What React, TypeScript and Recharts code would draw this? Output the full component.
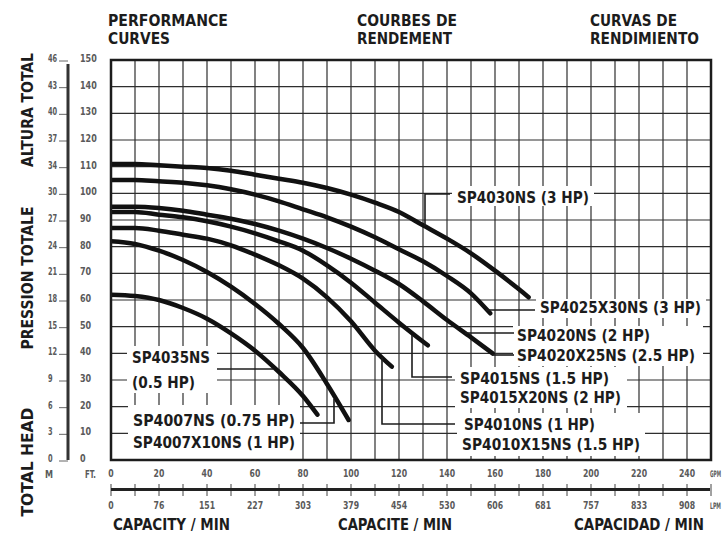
import React from "react";
import { LineChart, Line, XAxis, YAxis, CartesianGrid } from "recharts";

// capacity (GPM) and head (ft)
const gpmTicks = [0, 10, 20, 30, 40, 50, 60, 70, 80, 90, 100, 110, 120, 130, 140, 150, 160, 170, 180, 190, 200, 210, 220, 230, 240, 250];
const ftTicks = [0, 10, 20, 30, 40, 50, 60, 70, 80, 90, 100, 110, 120, 130, 140, 150];
const meterLabels = ["0", "3", "6", "9", "12", "15", "18", "21", "24", "27", "30", "34", "37", "40", "43", "46"];
const gpmLabels = [0, 20, 40, 60, 80, 100, 120, 140, 160, 180, 200, 220, 240];
const lpmLabels = ["0", "76", "151", "227", "303", "379", "454", "530", "606", "681", "757", "833", "908"];

const sp4030 = [[0, 111], [10, 111], [20, 110.5], [30, 110], [40, 109.5], [50, 108.5], [60, 107], [70, 105.5], [80, 104], [90, 102], [100, 99.5], [110, 96.5], [120, 93], [130, 88], [140, 83], [150, 77.5], [160, 71], [170, 64], [174, 61]];
const sp4025x30 = [[0, 105], [10, 105], [20, 104.5], [30, 104], [40, 103], [50, 101.5], [60, 99.5], [70, 97], [80, 94], [90, 91], [100, 87.5], [110, 83.5], [120, 79], [130, 74.5], [140, 69], [150, 62.5], [158, 55]];
const sp4020 = [[0, 95], [10, 95], [20, 94.5], [30, 93.5], [40, 92], [50, 90.5], [60, 88.5], [70, 86], [80, 83], [90, 79.5], [100, 75.5], [110, 71], [120, 66], [130, 59.5], [140, 52.5], [150, 46], [159, 40]];
const sp4015 = [[0, 93], [10, 93], [20, 92], [30, 91], [40, 89.5], [50, 87.5], [60, 85], [70, 82], [80, 78.5], [90, 73], [100, 66.5], [110, 59], [120, 51.5], [132, 43]];
const sp4010 = [[0, 87], [10, 87], [20, 86], [30, 84.5], [40, 83], [50, 80.5], [60, 77], [70, 73], [80, 68], [90, 61], [100, 52], [110, 41], [117, 35]];
const sp4007 = [[0, 82], [10, 81], [20, 78.5], [30, 75], [40, 70.5], [50, 65], [60, 58.5], [70, 51], [80, 42], [90, 28.5], [99, 15]];
const sp4035 = [[0, 62], [10, 61.5], [20, 60], [30, 57], [40, 53], [50, 47.5], [60, 41], [70, 33], [80, 24], [86, 17]];

const curves = [sp4030, sp4025x30, sp4020, sp4015, sp4010, sp4007, sp4035];
const toRows = (pts: number[][]) => pts.map(([gpm, head]) => ({ gpm, head }));

const font = "'DejaVu Sans', 'Liberation Sans', sans-serif";
const ink = "#1c1c1c";

function FtTick(props: any) {
  const { y, payload } = props;
  const ft = payload.value;
  const m = meterLabels[ftTicks.indexOf(ft)];
  const s = String(ft);
  return (
    <g fontFamily={font} fontWeight={700} fontSize={11} fill="#5a5a5a">
      <text x={48} y={y + 2} textLength={m.length * 4.6} lengthAdjust="spacingAndGlyphs">{m}</text>
      <line x1={59} x2={68} y1={y + 1} y2={y + 1} stroke="#666" strokeWidth={1} />
      <text x={80} y={y + 2} textLength={s.length * 5.6} lengthAdjust="spacingAndGlyphs">{s}</text>
    </g>
  );
}

function GpmTick(props: any) {
  const { x, payload } = props;
  const v = payload.value;
  const i = gpmLabels.indexOf(v);
  return (
    <g fontFamily={font} fontWeight={700} fontSize={11} fill="#5a5a5a">
      <line x1={x} x2={x} y1={484} y2={496} stroke="#444" strokeWidth={1} />
      {i >= 0 && (
        <text x={x} y={477} textAnchor="middle" textLength={String(v).length * 5.4} lengthAdjust="spacingAndGlyphs">{v}</text>
      )}
      {i >= 0 && (
        <text x={x} y={509} textAnchor="middle" textLength={lpmLabels[i].length * 5.4} lengthAdjust="spacingAndGlyphs">{lpmLabels[i]}</text>
      )}
    </g>
  );
}

function T({ x, y, w, size = 15, children }: any) {
  return (
    <text x={x} y={y} fontSize={size} fontFamily={font} fontWeight={700} fill={ink} textLength={w} lengthAdjust="spacingAndGlyphs">
      {children}
    </text>
  );
}

// horizontally squeezed text, for the words that sit on the page edge
function S({ x, y, w, sx, size, fill = ink, children }: any) {
  return (
    <text
      transform={`translate(${x},${y}) scale(${sx},1)`}
      fontSize={size}
      fontFamily={font}
      fontWeight={700}
      fill={fill}
      textLength={w / sx}
      lengthAdjust="spacingAndGlyphs"
    >
      {children}
    </text>
  );
}

function Annotations() {
  const lead = { fill: "none", stroke: ink, strokeWidth: 1.6 };
  return (
    <svg width={724} height={535} style={{ position: "absolute", left: 0, top: 0, pointerEvents: "none" }}>
      {/* label backgrounds */}
      <g fill="#fff">
        <rect x={452} y={186} width={142} height={20} />
        <rect x={536} y={299} width={170} height={19} />
        <rect x={513} y={326} width={190} height={40} />
        <rect x={455} y={367} width={172} height={41} />
        <rect x={457} y={413} width={188} height={43} />
        <rect x={127} y={346} width={90} height={47} />
        <rect x={128} y={405} width={172} height={54} />
      </g>
      <rect x={111} y={60} width={600} height={400} fill="none" stroke={ink} strokeWidth={2.5} />
      <line x1={68} x2={68} y1={64} y2={460} stroke="#333" strokeWidth={3} />
      <line x1={111} x2={710} y1={489.5} y2={489.5} stroke="#222" strokeWidth={3} />

      <T x={108} y={26} w={120} size={15}>PERFORMANCE</T>
      <T x={108} y={44} w={62} size={15}>CURVES</T>
      <T x={357} y={26} w={100} size={15}>COURBES DE</T>
      <T x={357} y={44} w={95} size={15}>RENDEMENT</T>
      <T x={590} y={26} w={87} size={15}>CURVAS DE</T>
      <T x={590} y={44} w={109} size={15}>RENDIMIENTO</T>

      <g fontFamily={font} fontWeight={700} fontSize={15} fill={ink} textAnchor="middle">
        <text transform="translate(33,110) rotate(-90)" textLength={114} lengthAdjust="spacingAndGlyphs">ALTURA TOTAL</text>
        <text transform="translate(33,278) rotate(-90)" textLength={143} lengthAdjust="spacingAndGlyphs">PRESSION TOTALE</text>
        <text transform="translate(33,462) rotate(-90)" textLength={109} lengthAdjust="spacingAndGlyphs">TOTAL HEAD</text>
      </g>

      <g fontFamily={font} fontWeight={700} fontSize={11} fill="#5a5a5a">
        <text x={45} y={478} textLength={8} lengthAdjust="spacingAndGlyphs">M</text>
        <text x={85} y={478} textLength={11} lengthAdjust="spacingAndGlyphs">FT.</text>
      </g>
      <S x={710} y={477} w={11} sx={0.5} size={9} fill="#5a5a5a">GPM</S>
      <S x={710} y={509} w={11} sx={0.5} size={9} fill="#5a5a5a">LPM</S>

      <S x={113} y={530} w={117} sx={0.75} size={16}>CAPACITY / MIN</S>
      <S x={338} y={530} w={114} sx={0.75} size={16}>CAPACITE / MIN</S>
      <S x={574} y={530} w={130} sx={0.75} size={16}>CAPACIDAD / MIN</S>

      {/* leaders */}
      <polyline points="425,226 425,194 450,194" {...lead} />
      <polyline points="486,310 535,310" {...lead} />
      <polyline points="465,333 514,333" {...lead} />
      <polyline points="492,355 514,355" {...lead} />
      <polyline points="412,335 412,377 452,377" {...lead} />
      <polyline points="382,357 382,424 455,424" {...lead} />
      <polyline points="217,369 273,369" {...lead} />
      <polyline points="300,423 334,423 334,399" {...lead} />

      <T x={457} y={203} w={132}>SP4030NS (3 HP)</T>
      <T x={540} y={313} w={161}>SP4025X30NS (3 HP)</T>
      <T x={517} y={341} w={133}>SP4020NS (2 HP)</T>
      <T x={517} y={361} w={178}>SP4020X25NS (2.5 HP)</T>
      <T x={460} y={384} w={149}>SP4015NS (1.5 HP)</T>
      <T x={460} y={403} w={161}>SP4015X20NS (2 HP)</T>
      <T x={464} y={430} w={131}>SP4010NS (1 HP)</T>
      <T x={462} y={450} w={178}>SP4010X15NS (1.5 HP)</T>
      <T x={132} y={363} w={78}>SP4035NS</T>
      <T x={132} y={388} w={63}>(0.5 HP)</T>
      <T x={133} y={426} w={162}>SP4007NS (0.75 HP)</T>
      <T x={133} y={448} w={162}>SP4007X10NS (1 HP)</T>
    </svg>
  );
}

export default function App() {
  return (
    <div style={{ position: "absolute", left: 0, top: 0, width: 724, height: 535, background: "#fff" }}>
      <LineChart width={724} height={535} margin={{ top: 60, right: 13, bottom: 0, left: 0 }}>
        <CartesianGrid stroke="#2e2e2e" strokeWidth={1.2} />
        <XAxis
          type="number"
          dataKey="gpm"
          domain={[0, 250]}
          ticks={gpmTicks}
          interval={0}
          height={75}
          axisLine={false}
          tickLine={false}
          tick={<GpmTick />}
          allowDataOverflow
        />
        <YAxis
          type="number"
          domain={[0, 150]}
          ticks={ftTicks}
          interval={0}
          width={111}
          axisLine={false}
          tickLine={false}
          tick={<FtTick />}
          allowDataOverflow
        />
        {curves.map((c, i) => (
          <Line
            key={i}
            data={toRows(c)}
            dataKey="head"
            type="monotone"
            stroke="#111"
            strokeWidth={4.5}
            strokeLinecap="round"
            dot={false}
            activeDot={false}
            isAnimationActive={false}
          />
        ))}
      </LineChart>
      <Annotations />
    </div>
  );
}
